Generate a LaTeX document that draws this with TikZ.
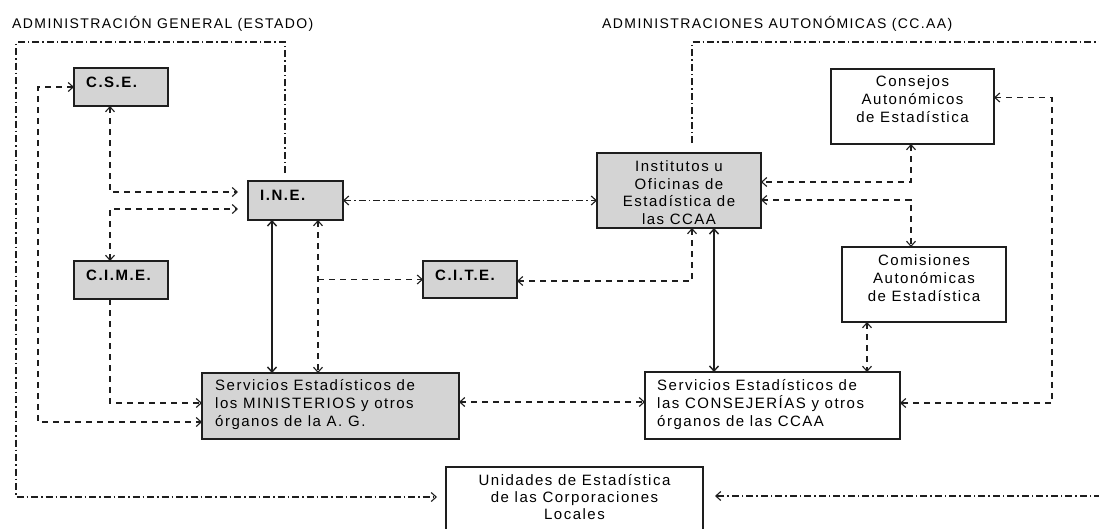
\documentclass[tikz,border=0pt]{standalone}
\usepackage{fontspec}
\setmainfont{Liberation Sans}[LetterSpace=10]
\usetikzlibrary{arrows.meta,calc}
\definecolor{boxgray}{HTML}{D4D4D4}
\definecolor{ink}{HTML}{1E1E1E}
\begin{document}
\begin{tikzpicture}[x=1pt,y=-1pt,
  font=\fontsize{15}{18}\selectfont,
  gbox/.style n args={2}{draw=ink, line width=1.7pt, fill=boxgray, anchor=north west, inner sep=0pt, outer sep=0pt, minimum width=#1pt, minimum height=#2pt},
  wbox/.style n args={2}{gbox={#1}{#2}, fill=white},
  blbl/.style={font=\fontsize{15}{18}\selectfont\bfseries, anchor=base west, inner sep=0pt},
  mtxt/.style={anchor=base west, align=left, inner sep=0pt},
  ctxt/.style={anchor=base, align=center, inner sep=0pt},
  hdr/.style={anchor=base west, inner sep=0pt, font=\fontsize{14}{16}\selectfont},
  con/.style={draw=ink, line width=1.1pt},
  dsh/.style={con, dash pattern=on 6pt off 5pt},
  ddt/.style={con, dash pattern=on 7pt off 3pt on 1.5pt off 3pt},
  sld/.style={con, line width=1.4pt},
  >={Straight Barb[length=5pt,width=9pt]}
]
\useasboundingbox (0,0) rectangle (1099,528);
\clip (0,0) rectangle (1099,528);

% headers
\node[hdr] (h1) at (12,28.5) {ADMINISTRACIÓN GENERAL (ESTADO)};
\node[hdr] (h2) at (602,28.5) {ADMINISTRACIONES AUTONÓMICAS (CC.AA)};

% boxes
\node[gbox={94}{38}] (cse) at (74,68) {};
\node[gbox={95}{39}] (ine) at (248,181) {};
\node[gbox={94}{38}] (cime) at (74,261) {};
\node[gbox={94}{37}] (cite) at (423,261) {};
\node[gbox={257}{66}] (smin) at (202,373) {};
\node[gbox={164}{75}] (inst) at (597,153) {};
\node[wbox={163}{75}] (cons) at (831,69) {};
\node[wbox={164}{75}] (comi) at (842,247) {};
\node[wbox={255}{67}] (sccaa) at (645,372) {};
\node[wbox={257}{72}] (unid) at (446,467) {};

% texts (anchor base = baseline of the last line)
\node[blbl] (cse-l) at ($(cse.north west)+(12,19)$) {C.S.E.};
\node[blbl] (ine-l) at ($(ine.north west)+(12,19)$) {I.N.E.};
\node[blbl] (cime-l) at ($(cime.north west)+(12,19)$) {C.I.M.E.};
\node[blbl] (cite-l) at ($(cite.north west)+(12,19)$) {C.I.T.E.};
\node[mtxt] (smin-t) at ($(smin.north west)+(13,53.5)$) {Servicios Estadísticos de\\los MINISTERIOS y otros\\órganos de la A. G.};
\node[mtxt] (sccaa-t) at ($(sccaa.north west)+(12,54.5)$) {Servicios Estadísticos de\\las CONSEJERÍAS y otros\\órganos de las CCAA};
\node[ctxt, font=\fontsize{15}{17.5}\selectfont] (inst-t) at ($(inst.north)+(0,71)$) {Institutos u\\Oficinas de\\Estadística de\\las CCAA};
\node[ctxt] (cons-t) at ($(cons.north)+(0,53)$) {Consejos\\Autonómicos\\de Estadística};
\node[ctxt] (comi-t) at ($(comi.north)+(0,54)$) {Comisiones\\Autonómicas\\de Estadística};
\node[ctxt, font=\fontsize{15}{17}\selectfont] (unid-t) at ($(unid.north)+(0,52)$) {Unidades de Estadística\\de las Corporaciones\\Locales};

% connectors, state side
\coordinate (p1) at ($(cse.south west)+(36,0)$);
\draw[dsh,<->,shorten >=10pt] (p1) |- ($(ine.west)+(0,-8.5)$);
\coordinate (p2) at ($(cime.north west)+(36,0)$);
\draw[dsh,<->,shorten >=10pt] (p2) |- ($(ine.west)+(0,8.5)$);
\draw[dsh,<->] (cse.west) -- ++(-36,0) |- ($(smin.south west)+(0,-17)$);
\coordinate (p3) at ($(cime.south west)+(36,0)$);
\draw[dsh,->] (p3) |- ($(smin.west)+(0,-3)$);
\coordinate (p4) at ($(ine.south west)+(24,0)$);
\draw[sld,<->] (p4) -- (p4 |- smin.north);
\coordinate (p5) at ($(ine.south west)+(70,0)$);
\draw[dsh,<->] (p5) -- (p5 |- smin.north);
\coordinate (p5b) at (p5 |- cite.west);
\draw[dsh,->] (p5b) -- (cite.west);

% connectors, CCAA side
\coordinate (q1) at ($(inst.south west)+(95,0)$);
\draw[dsh,<->] (q1) |- ($(cite.east)+(0,1.5)$);
\draw[ddt,<->] (ine.east) -- (ine.east -| inst.west);
\coordinate (q2) at ($(inst.south west)+(117,0)$);
\draw[sld,<->] (q2) -- (q2 |- sccaa.north);
\coordinate (q3) at ($(cons.south west)+(80,0)$);
\draw[dsh,<->] (q3) |- ($(inst.east)+(0,-8.5)$);
\coordinate (q4) at ($(comi.north west)+(69,0)$);
\draw[dsh,<->] ($(inst.east)+(0,9.5)$) -| (q4);
\coordinate (q5) at ($(comi.south west)+(25,0)$);
\draw[dsh,<->] (q5) -- (q5 |- sccaa.north);
\draw[dsh,<->] ($(cons.east)+(0,-9)$) -- ++(58,0) |- ($(sccaa.east)+(0,-2.5)$);
\coordinate (r1) at ($(smin.east)+(0,-4)$);
\draw[dsh,<->] (r1) -- (r1 -| sccaa.west);

% dash-dot outer links to local units
\coordinate (s1) at ($(ine.north)+(-10.5,-8)$);
\coordinate (s2) at (16,42);
\draw[ddt,->,shorten >=9pt] (s1) |- (s2) |- ($(unid.north west)+(0,30)$);
\coordinate (t1) at ($(inst.north)+(13,-10)$);
\coordinate (t2) at (1112,42);
\coordinate (t3) at (1112,496);
\draw[ddt,->,shorten >=12pt] (t1) |- (t2) -- (t3) -- (t3 -| unid.east);
\end{tikzpicture}
\end{document}
